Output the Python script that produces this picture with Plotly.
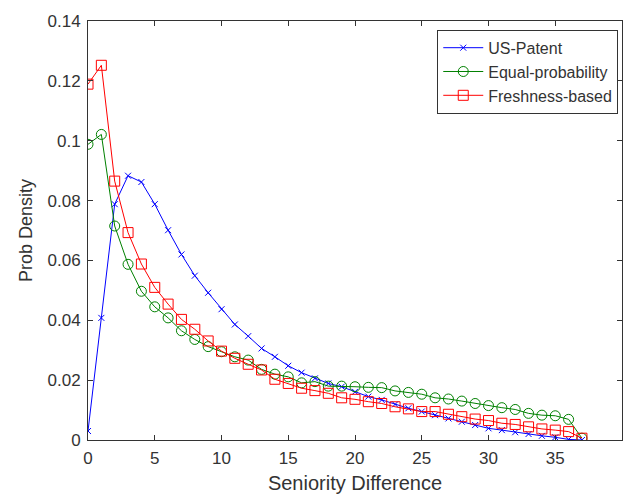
import plotly.graph_objects as go

x_vals = list(range(0, 38))

us_patent = [0.003, 0.0408, 0.0788, 0.0883, 0.0862, 0.0788, 0.0701, 0.062, 0.0549, 0.0492,
             0.0437, 0.0386, 0.0347, 0.0306, 0.0278, 0.0248, 0.0225, 0.0206, 0.0189, 0.0178,
             0.0161, 0.0145, 0.0134, 0.0119, 0.0106, 0.0095, 0.0083, 0.0072, 0.0061, 0.005,
             0.0039, 0.0033, 0.0026, 0.002, 0.0014, 0.0009, 0.0002, 0.0]

equal_prob = [0.0988, 0.1021, 0.0715, 0.0587, 0.0497, 0.0445, 0.0408, 0.0365, 0.0336, 0.0312,
              0.0295, 0.0278, 0.0267, 0.0236, 0.022, 0.0211, 0.0191, 0.0195, 0.018, 0.018,
              0.0178, 0.0176, 0.0175, 0.0164, 0.0159, 0.0153, 0.0141, 0.0137, 0.013, 0.0122,
              0.0115, 0.0108, 0.0102, 0.0089, 0.0083, 0.0081, 0.0069, 0.0006]

freshness = [0.1189, 0.1252, 0.0865, 0.0693, 0.0588, 0.051, 0.0454, 0.0403, 0.037, 0.0331,
             0.0297, 0.0273, 0.0253, 0.0234, 0.0203, 0.0189, 0.0173, 0.0165, 0.0156, 0.0141,
             0.0136, 0.0128, 0.0122, 0.0111, 0.0104, 0.0095, 0.0095, 0.0086, 0.0078, 0.007,
             0.0065, 0.0056, 0.0052, 0.0044, 0.0037, 0.0033, 0.0028, 0.0006]

x_ticks = [0, 5, 10, 15, 20, 25, 30, 35, 40]
y_ticks = [0, 0.02, 0.04, 0.06, 0.08, 0.1, 0.12, 0.14]
y_tick_labels = ["0", "0.02", "0.04", "0.06", "0.08", "0.1", "0.12", "0.14"]

fig = go.Figure()
fig.add_trace(go.Scatter(
    x=x_vals, y=us_patent, name="US-Patent", mode="lines+markers",
    line=dict(color="#0000FF", width=1),
    marker=dict(symbol="x-thin", size=6, line=dict(color="#0000FF", width=1), color="#0000FF")))
fig.add_trace(go.Scatter(
    x=x_vals, y=equal_prob, name="Equal-probability", mode="lines+markers",
    line=dict(color="#008000", width=1),
    marker=dict(symbol="circle-open", size=10, line=dict(color="#008000", width=1), color="#008000")))
fig.add_trace(go.Scatter(
    x=x_vals, y=freshness, name="Freshness-based", mode="lines+markers",
    line=dict(color="#FF0000", width=1),
    marker=dict(symbol="square-open", size=10, line=dict(color="#FF0000", width=1), color="#FF0000")))

font_family = "Liberation Sans, Arial, sans-serif"

fig.update_layout(
    width=627, height=495,
    margin=dict(l=88, r=5, t=21, b=55),
    paper_bgcolor="white", plot_bgcolor="white",
    font=dict(family=font_family, size=17, color="#333333"),
    showlegend=True,
    legend=dict(
        x=0.993, y=0.979, xanchor="right", yanchor="top",
        bgcolor="white", bordercolor="#333333", borderwidth=1,
        font=dict(size=16, family=font_family, color="#333333"),
        tracegroupgap=0, itemwidth=40,
    ),
    xaxis=dict(
        range=[0, 40], tickvals=x_ticks, ticktext=[str(t) for t in x_ticks],
        showgrid=False, zeroline=False,
        showline=True, linecolor="#333333", linewidth=1, mirror="ticks",
        ticks="inside", ticklen=5, tickcolor="#333333",
        title=dict(text="Seniority Difference", font=dict(size=20), standoff=8),
        tickfont=dict(size=17), ticklabelstandoff=3,
    ),
    yaxis=dict(
        range=[0, 0.14], tickvals=y_ticks, ticktext=y_tick_labels,
        showgrid=False, zeroline=False,
        showline=True, linecolor="#333333", linewidth=1, mirror="ticks",
        ticks="inside", ticklen=5, tickcolor="#333333",
        title=dict(text="Prob Density", font=dict(size=18), standoff=10),
        tickfont=dict(size=17), ticklabelstandoff=3,
    ),
)

fig.write_html("out.html")
